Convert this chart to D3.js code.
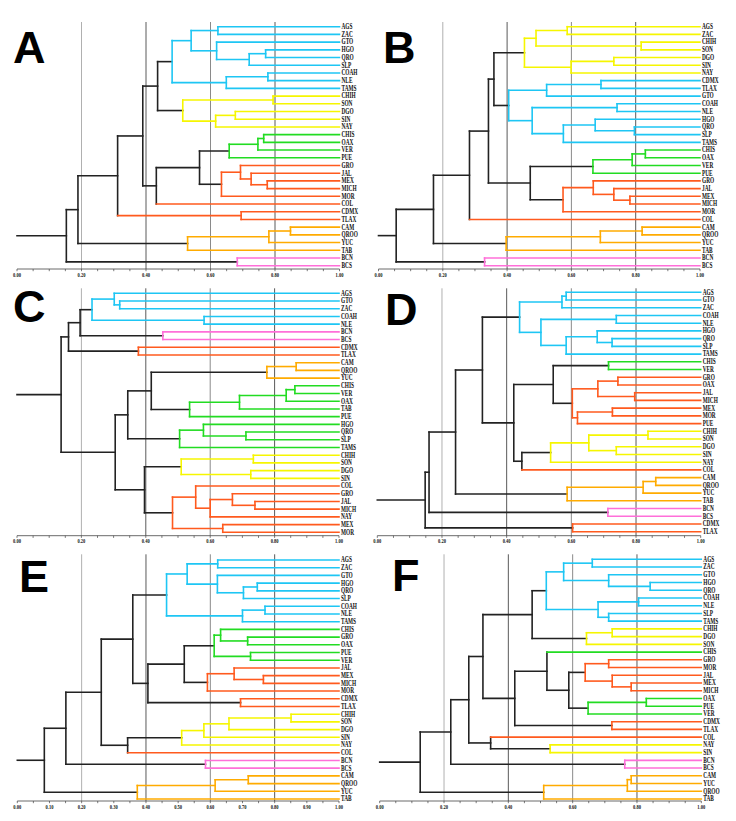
<!DOCTYPE html>
<html><head><meta charset="utf-8">
<script src="https://cdn.jsdelivr.net/npm/d3@7"></script>
<style>body{margin:0;background:#fff}svg{display:block}</style>
</head><body>
<svg id="c" width="736" height="821"></svg>
<script>
// ---------- DATA ----------
const panelNames = ["A","B","C","D","E","F"];

const leavesA = ["AGS","ZAC","GTO","HGO","QRO","SLP","COAH","NLE","TAMS","CHIH","SON","DGO","SIN","NAY","CHIS","OAX","VER","PUE","GRO","JAL","MEX","MICH","MOR","COL","CDMX","TLAX","CAM","QROO","YUC","TAB","BCN","BCS"];
const clustersA = ["c","c","c","c","c","c","c","c","c","y","y","y","y","y","g","g","g","g","o","o","o","o","o","o","o","o","a","a","a","a","p","p"];
const treeA = [0.153,
  [0.189,
    [0.312,
      [0.390,
        [0.436,
          [0.481,
            [0.540,[0.623,"AGS","ZAC"],[0.619,"GTO",[0.720,[0.771,"HGO","QRO"],"SLP"]]],
            [0.649,[0.778,"COAH","NLE"],"TAMS"]],
          [0.514,[0.794,"CHIH","SON"],[0.616,[0.677,"DGO","SIN"],"NAY"]]],
        [0.432,
          [0.566,
            [0.658,[0.747,[0.765,"CHIS","OAX"],"VER"],"PUE"],
            [0.634,[0.693,"GRO",[0.726,"JAL",[0.776,"MEX","MICH"]]],"MOR"]],
          "COL"]],
      [0.695,"CDMX","TLAX"]],
    [0.529,[0.781,[0.848,"CAM","QROO"],"YUC"],"TAB"]],
  [0.683,"BCN","BCS"]];
const colouredJoinsA = ["CDMX"];

const leavesB = ["AGS","ZAC","CHIH","SON","DGO","SIN","NAY","CDMX","TLAX","GTO","COAH","NLE","HGO","QRO","SLP","TAMS","CHIS","OAX","VER","PUE","GRO","JAL","MEX","MICH","MOR","COL","CAM","QROO","YUC","TAB","BCN","BCS"];
const clustersB = ["y","y","y","y","y","y","y","c","c","c","c","c","c","c","c","c","g","g","g","g","o","o","o","o","o","o","a","a","a","a","p","p"];
const treeB = [0.055,
  [0.171,
    [0.283,
      [0.342,
        [0.359,
          [0.454,[0.490,[0.587,"AGS","ZAC"],[0.817,"CHIH","SON"]],[0.599,[0.732,"DGO","SIN"],"NAY"]],
          [0.405,[0.523,[0.692,"CDMX","TLAX"],"GTO"],[0.478,[0.742,"COAH","NLE"],[0.575,[0.674,"HGO",[0.796,"QRO","SLP"]],"TAMS"]]]],
        [0.472,
          [0.667,[0.789,[0.830,"CHIS","OAX"],"VER"],"PUE"],
          [0.574,[0.668,"GRO",[0.732,"JAL",[0.782,"MEX","MICH"]]],"MOR"]]],
      "COL"],
    [0.397,[0.690,[0.820,"CAM","QROO"],"YUC"],"TAB"]],
  [0.330,"BCN","BCS"]];

const leavesC = ["AGS","GTO","ZAC","COAH","NLE","BCN","BCS","CDMX","TLAX","CAM","QROO","YUC","CHIS","VER","OAX","TAB","PUE","HGO","QRO","SLP","TAMS","CHIH","SON","DGO","SIN","COL","GRO","JAL","MICH","NAY","MEX","MOR"];
const clustersC = ["c","c","c","c","c","p","p","o","o","a","a","a","g","g","g","g","g","g","g","g","g","y","y","y","y","o","o","o","o","o","o","o"];
const treeC = [0.137,
  [0.160,
    [0.196,
      [0.233,[0.302,"AGS",[0.319,"GTO","ZAC"]],[0.581,"COAH","NLE"]],
      [0.453,"BCN","BCS"]],
    [0.377,"CDMX","TLAX"]],
  [0.305,
    [0.344,
      [0.417,
        [0.776,[0.867,"CAM","QROO"],"YUC"],
        [0.536,[0.691,[0.836,[0.863,"CHIS","VER"],"OAX"],"TAB"],"PUE"]],
      [0.505,[0.579,"HGO",[0.711,"QRO","SLP"]],"TAMS"]],
    [0.396,
      [0.510,[0.734,"CHIH","SON"],[0.726,"DGO","SIN"]],
      [0.483,[0.555,"COL",[0.600,[0.669,"GRO",[0.739,"JAL","MICH"]],"NAY"]],[0.639,"MEX","MOR"]]]]];

const leavesD = ["AGS","GTO","ZAC","COAH","NLE","HGO","QRO","SLP","TAMS","CHIS","VER","GRO","OAX","JAL","MICH","MEX","MOR","PUE","CHIH","SON","DGO","SIN","NAY","COL","CAM","QROO","YUC","TAB","BCN","BCS","CDMX","TLAX"];
const clustersD = ["c","c","c","c","c","c","c","c","c","g","g","o","o","o","o","o","o","o","y","y","y","y","y","o","a","a","a","a","p","p","o","o"];
const treeD = [0.148,
  [0.160,
    [0.242,
      [0.325,
        [0.440,[0.571,[0.584,"AGS","GTO"],"ZAC"],[0.506,[0.739,"COAH","NLE"],[0.584,[0.680,"HGO",[0.726,"QRO","SLP"]],"TAMS"]]],
        [0.422,
          [0.544,[0.715,"CHIS","VER"],[0.603,[0.682,[0.744,"GRO","OAX"],[0.796,"JAL","MICH"]],[0.619,[0.727,"MEX","MOR"],"PUE"]]],
          [0.447,[0.536,[0.654,[0.837,"CHIH","SON"],[0.739,"DGO","SIN"]],"NAY"],"COL"]]],
      [0.587,[0.822,[0.861,"CAM","QROO"],"YUC"],"TAB"]],
    [0.713,"BCN","BCS"]],
  [0.604,"CDMX","TLAX"]];

const leavesE = ["AGS","ZAC","GTO","HGO","QRO","SLP","COAH","NLE","TAMS","CHIS","GRO","OAX","PUE","VER","JAL","MEX","MICH","MOR","CDMX","TLAX","CHIH","SON","DGO","SIN","NAY","COL","BCN","BCS","CAM","QROO","YUC","TAB"];
const clustersE = ["c","c","c","c","c","c","c","c","c","g","g","g","g","g","o","o","o","o","o","o","y","y","y","y","y","o","p","p","a","a","a","a"];
const treeE = [0.084,
  [0.151,
    [0.261,
      [0.359,
        [0.464,[0.528,[0.623,"AGS","ZAC"],[0.622,"GTO",[0.703,[0.746,"HGO","QRO"],"SLP"]]],[0.700,[0.770,"COAH","NLE"],"TAMS"]],
        [0.406,
          [0.519,[0.612,[0.632,"CHIS",[0.716,"GRO","OAX"]],[0.725,"PUE","VER"]],[0.591,[0.674,"JAL",[0.765,"MEX","MICH"]],"MOR"]],
          [0.694,"CDMX","TLAX"]]],
      [0.343,[0.511,[0.580,[0.658,[0.851,"CHIH","SON"],"DGO"],"SIN"],"NAY"],"COL"]],
    [0.585,"BCN","BCS"]],
  [0.373,[0.615,[0.718,"CAM","QROO"],"YUC"],"TAB"]];

const leavesF = ["AGS","ZAC","GTO","HGO","QRO","COAH","NLE","SLP","TAMS","CHIH","DGO","SON","CHIS","GRO","MOR","JAL","MEX","MICH","OAX","PUE","VER","CDMX","TLAX","COL","NAY","SIN","BCN","BCS","CAM","YUC","QROO","TAB"];
const clustersF = ["c","c","c","c","c","c","c","c","c","y","y","y","g","o","o","o","o","o","g","g","g","o","o","o","y","y","p","p","a","a","a","a"];
const treeF = [0.126,
  [0.221,
    [0.277,
      [0.321,
        [0.474,
          [0.518,[0.572,[0.661,"AGS","ZAC"],[0.712,"GTO",[0.841,"HGO","QRO"]]],[0.679,[0.805,"COAH","NLE"],[0.712,"SLP","TAMS"]]],
          [0.643,[0.723,"CHIH","DGO"],"SON"]],
        [0.420,
          [0.520,"CHIS",[0.588,[0.639,[0.712,"GRO","MOR"],[0.723,"JAL",[0.782,"MEX","MICH"]]],[0.648,[0.829,"OAX","PUE"],"VER"]]],
          [0.722,"CDMX","TLAX"]]],
      [0.345,"COL",[0.530,"NAY","SIN"]]],
    [0.762,"BCN","BCS"]],
  [0.510,[0.770,[0.782,"CAM","YUC"],"QROO"],"TAB"]];

const gridValues = [0.2, 0.4, 0.6, 0.8];
const tickLabels = ["0.00","0.20","0.40","0.60","0.80","1.00"];
const tickLabelsE = ["0.00","0.10","0.20","0.30","0.40","0.50","0.60","0.70","0.80","0.90","1.00"];

// ---------- STYLE / LAYOUT ----------
const colour = {c:"#1ec6f4", y:"#f6f600", g:"#22dc22", o:"#ff5a1e", a:"#ffab00", p:"#ff6fd9", k:"#222222"};
const gridColour = {0.2:"#b0b0b0", 0.4:"#5a5a5a", 0.6:"#8a8a8a", 0.8:"#5a5a5a"};

const panels = [
  {name:"A", tree:treeA, leaves:leavesA, clusters:clustersA, joins:colouredJoinsA, x0:17, x1:339.5, yT:26.7, yB:265.7, axisY:269, gridTop:22, ticks:tickLabels, lx:13, ly:63},
  {name:"B", tree:treeB, leaves:leavesB, clusters:clustersB, joins:[], x0:378.5, x1:700, yT:26.7, yB:265.7, axisY:269, gridTop:22, ticks:tickLabels, lx:383, ly:63},
  {name:"C", tree:treeC, leaves:leavesC, clusters:clustersC, joins:[], x0:17, x1:339, yT:293.3, yB:532.3, axisY:535.7, gridTop:288.3, ticks:tickLabels, lx:13, ly:322},
  {name:"D", tree:treeD, leaves:leavesD, clusters:clustersD, joins:[], x0:377.3, x1:700.7, yT:292.3, yB:531.7, axisY:535.7, gridTop:288.3, ticks:tickLabels, lx:385, ly:325},
  {name:"E", tree:treeE, leaves:leavesE, clusters:clustersE, joins:[], x0:17.3, x1:339, yT:560, yB:799, axisY:801, gridTop:554.3, ticks:tickLabelsE, lx:19, ly:592},
  {name:"F", tree:treeF, leaves:leavesF, clusters:clustersF, joins:[], x0:379.7, x1:701.3, yT:559.3, yB:799, axisY:801, gridTop:554.3, ticks:tickLabels, lx:392, ly:591}
];

const svg = d3.select("#c");

panels.forEach(P => {
  const g = svg.append("g");
  const x = d3.scaleLinear().domain([0,1]).range([P.x0, P.x1]);
  const y = d3.scaleLinear().domain([0, P.leaves.length-1]).range([P.yT, P.yB]);
  const clusterOf = {};
  P.leaves.forEach((n,i) => clusterOf[n] = P.clusters[i]);

  // grid
  g.selectAll("line.grid").data(gridValues).join("line")
    .attr("x1", d => x(d)).attr("x2", d => x(d))
    .attr("y1", P.gridTop).attr("y2", P.axisY)
    .attr("stroke", d => gridColour[d]).attr("stroke-width", 1);

  // axis
  const ax = g.append("g").attr("transform", `translate(0,${P.axisY})`);
  ax.append("line").attr("x1", x(0)).attr("x2", x(1)).attr("stroke","#444").attr("stroke-width",0.8);
  ax.selectAll("line.t").data(d3.range(0, 1.0001, 0.05)).join("line")
    .attr("x1", d => x(d)).attr("x2", d => x(d)).attr("y1", 0).attr("y2", 2.2)
    .attr("stroke","#444").attr("stroke-width",0.7);
  ax.selectAll("text").data(P.ticks).join("text")
    .attr("transform", d => `translate(${x(+d)},6.3) scale(0.75,1)`)
    .attr("text-anchor","middle").attr("dominant-baseline","middle")
    .attr("font-family","Liberation Serif, serif").attr("font-weight","bold")
    .attr("font-size", 6).attr("fill","#111").text(d => d);

  // hierarchy
  const root = d3.hierarchy(P.tree, d => Array.isArray(d) ? d.slice(1) : null);
  let li = 0;
  root.eachAfter(n => {
    if (!n.children) {
      n.name = n.data; n.h = 1; n.yy = y(li++); n.cl = clusterOf[n.name];
    } else {
      n.h = n.data[0];
      n.yy = (n.children[0].yy + n.children[n.children.length-1].yy) / 2;
      const cs = new Set(n.children.map(c => c.cl));
      n.cl = cs.size === 1 ? [...cs][0] : "k";
    }
  });

  const segs = [];
  root.each(n => {
    if (!n.children) return;
    segs.push({x1:x(n.h), x2:x(n.h), y1:n.children[0].yy, y2:n.children[n.children.length-1].yy, c:n.cl});
    n.children.forEach(ch => {
      const first = ch.leaves()[0].name;
      const ec = (!ch.children || P.joins.includes(first)) ? ch.cl : n.cl;
      segs.push({x1:x(n.h), x2:x(ch.h), y1:ch.yy, y2:ch.yy, c:ec});
    });
  });
  // root stub
  segs.push({x1:x(0), x2:x(root.h), y1:root.yy, y2:root.yy, c:"k"});

  // draw black first, colored on top
  segs.sort((a,b) => (a.c==="k"?0:1) - (b.c==="k"?0:1));
  g.selectAll("line.s").data(segs).join("line")
    .attr("x1", d => d.x1).attr("x2", d => d.x2).attr("y1", d => d.y1).attr("y2", d => d.y2)
    .attr("stroke", d => colour[d.c]).attr("stroke-width", 1.6).attr("stroke-linecap","square");

  // leaf labels
  g.selectAll("text.l").data(root.leaves()).join("text")
    .attr("transform", d => `translate(${x(1)+2},${d.yy}) scale(0.74,1)`)
    .attr("dy","0.33em")
    .attr("font-family","Liberation Serif, serif").attr("font-weight","bold")
    .attr("font-size", 7.2).attr("fill","#111").text(d => d.name);

  // panel letter
  g.append("text").attr("x", P.lx).attr("y", P.ly)
    .attr("font-family","Liberation Sans, Arial, sans-serif").attr("font-weight","bold")
    .attr("font-size", 45).attr("fill","#000").text(P.name);
});
</script>
</body></html>
